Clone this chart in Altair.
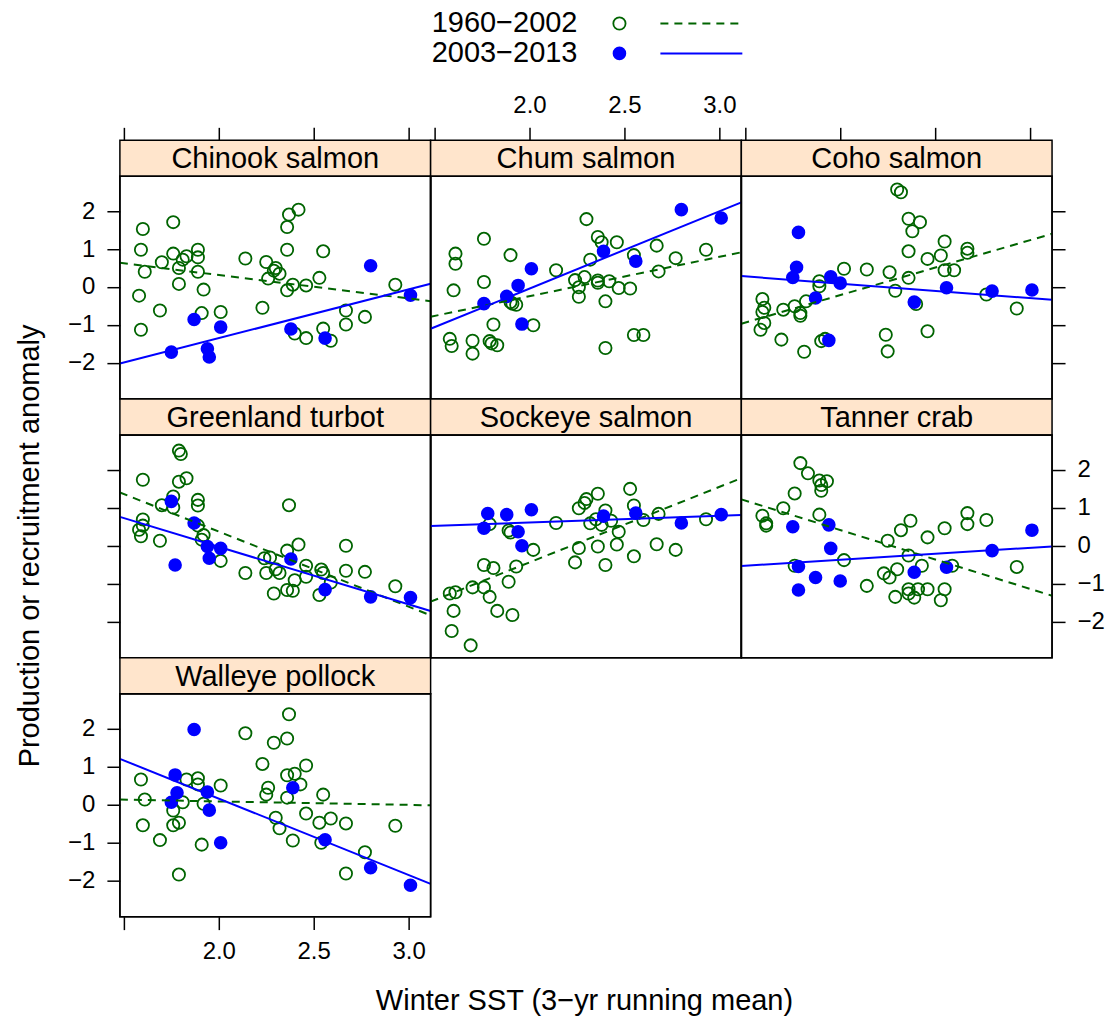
import altair as alt
import pandas as pd

# ---------------- data ----------------
SPECIES = ["Chinook salmon", "Chum salmon", "Coho salmon", "Greenland turbot",
           "Sockeye salmon", "Tanner crab", "Walleye pollock"]
PERIODS = ["1960\u22122002", "2003\u22122013"]
X_TICKS = [1.5, 2.0, 2.5, 3.0]
Y_TICKS = [-2, -1, 0, 1, 2]
X_TITLE = "Winter SST (3\u2212yr running mean)"
Y_TITLE = "Production or recruitment anomaly"

chinook_old_x = [1.60, 1.76, 1.59, 1.61, 1.58, 1.59, 1.70, 1.69, 1.76, 1.79, 1.81, 1.83, 1.79, 1.89, 1.89,
                 1.89, 1.92, 1.91, 2.01, 2.14, 2.23, 2.25, 2.26, 2.29, 2.30, 2.32, 2.36, 2.36, 2.37, 2.42,
                 2.36, 2.39, 2.46, 2.40, 2.46, 2.55, 2.53, 2.55, 2.59, 2.67, 2.67, 2.77, 2.93]
chinook_old_y = [1.53, 1.71, 0.98, 0.40, -0.23, -1.13, 0.65, -0.62, 0.88, 0.50, 0.72, 0.81, 0.08, 0.98, 0.78,
                 0.40, -0.07, -0.69, -0.66, 0.75, -0.55, 0.66, 0.22, 0.43, 0.50, 0.35, 0.98, 1.58, 1.91, 2.04,
                 -0.09, 0.06, 0.04, -1.23, -1.35, 0.94, 0.24, -1.10, -1.42, -0.62, -0.99, -0.79, 0.06]
chinook_new_x = [1.87, 1.75, 1.94, 1.95, 2.01, 2.38, 2.56, 2.80, 3.01]
chinook_new_y = [-0.86, -1.72, -1.63, -1.85, -1.06, -1.11, -1.35, 0.56, -0.22]

chum_old_x = [2.30, 2.36, 2.38, 2.46, 1.76, 1.61, 1.61, 1.90, 1.60, 1.76, 2.32, 2.14, 2.24, 2.29, 2.26,
              2.26, 2.36, 2.36, 2.42, 2.47, 2.53, 2.55, 2.40, 2.67, 2.68, 2.77, 2.93, 1.90, 1.91, 1.93,
              1.81, 2.02, 1.58, 1.59, 1.70, 1.79, 1.80, 1.83, 1.70, 2.40, 2.55, 2.60]
chum_old_y = [1.79, 1.32, 1.18, 1.18, 1.27, 0.88, 0.61, 0.84, -0.09, 0.13, 0.72, 0.44, 0.18, 0.26, -0.01,
              -0.26, 0.17, 0.11, 0.15, -0.03, -0.04, 0.84, -0.38, 1.09, 0.41, 0.76, 0.98, -0.40, -0.44, -0.47,
              -0.99, -1.01, -1.37, -1.56, -1.42, -1.43, -1.49, -1.54, -1.76, -1.61, -1.27, -1.27]
chum_new_x = [1.76, 1.88, 1.94, 2.01, 1.96, 2.39, 2.56, 2.80, 3.01]
chum_new_y = [-0.44, -0.25, 0.04, 0.48, -0.98, 0.94, 0.68, 2.04, 1.82]

coho_old_x = [2.30, 2.32, 2.36, 2.42, 2.38, 2.55, 2.67, 2.67, 2.53, 2.36, 2.46, 2.55, 2.60, 2.36, 2.26,
              2.14, 2.02, 1.89, 1.89, 2.29, 2.40, 1.82, 1.76, 1.79, 1.79, 1.70, 1.59, 1.60, 1.59, 1.60,
              1.58, 1.69, 1.81, 1.90, 1.92, 2.24, 2.25, 2.46, 2.77, 2.93]
coho_old_y = [2.57, 2.50, 1.80, 1.71, 1.47, 1.20, 1.01, 0.90, 0.83, 0.94, 0.74, 0.44, 0.44, 0.24, 0.39,
              0.46, 0.48, 0.15, 0.02, -0.10, -0.45, -0.38, -0.51, -0.69, -0.76, -0.60, -0.32, -0.55, -0.66, -0.95,
              -1.13, -1.39, -1.71, -1.43, -1.37, -1.26, -1.70, -1.17, -0.20, -0.57]
coho_new_x = [1.78, 1.77, 1.75, 1.87, 1.95, 2.00, 1.94, 2.39, 2.56, 2.80, 3.01]
coho_new_y = [1.44, 0.52, 0.25, -0.29, 0.27, 0.10, -1.41, -0.40, -0.02, -0.11, -0.08]

turbot_old_x = [1.79, 1.80, 1.60, 1.79, 1.83, 1.76, 1.70, 1.76, 1.89, 1.89, 1.60, 1.60, 1.58, 1.59, 1.69,
                1.89, 1.92, 1.91, 2.01, 2.14, 2.37, 2.42, 2.36, 2.24, 2.27, 2.25, 2.30, 2.32, 2.46, 2.46,
                2.40, 2.36, 2.39, 2.29, 2.54, 2.55, 2.59, 2.53, 2.67, 2.67, 2.77, 2.93]
turbot_old_y = [2.51, 2.42, 1.74, 1.69, 1.78, 1.30, 1.07, 1.01, 1.21, 1.06, 0.69, 0.53, 0.42, 0.25, 0.13,
                0.53, 0.28, 0.16, -0.40, -0.72, 1.07, 0.03, -0.13, -0.33, -0.31, -0.72, -0.62, -0.72, -0.53, -0.82,
                -0.91, -1.17, -1.19, -1.26, -0.63, -0.72, -0.97, -1.30, 0.00, -0.66, -0.69, -1.07]
turbot_new_x = [1.75, 1.87, 1.77, 1.94, 1.95, 2.01, 2.38, 2.56, 2.80, 3.01]
turbot_new_y = [1.17, 0.60, -0.51, -0.02, -0.33, -0.07, -0.35, -1.16, -1.35, -1.37]

sockeye_old_x = [2.53, 2.36, 2.30, 2.29, 2.26, 2.55, 2.40, 2.35, 2.32, 2.38, 2.43, 2.60, 2.68, 2.93, 2.47,
                 2.46, 2.36, 2.26, 2.24, 2.40, 2.55, 2.67, 2.77, 2.14, 1.79, 1.89, 1.90, 2.02, 1.93, 1.76,
                 1.81, 1.89, 1.70, 1.76, 1.79, 1.58, 1.61, 1.60, 1.83, 1.91, 1.59, 1.69]
sockeye_old_y = [1.50, 1.37, 1.23, 1.13, 0.99, 1.06, 0.93, 0.70, 0.59, 0.55, 0.66, 0.68, 0.84, 0.70, 0.37,
                 0.03, -0.02, -0.06, -0.44, -0.51, -0.28, 0.04, -0.11, 0.60, 0.57, 0.40, 0.35, -0.11, -0.55, -0.51,
                 -0.59, -0.95, -1.10, -1.10, -1.35, -1.26, -1.23, -1.72, -1.72, -1.83, -2.25, -2.63]
sockeye_new_x = [1.78, 1.88, 2.01, 1.76, 1.94, 1.96, 2.39, 2.56, 2.80, 3.01]
sockeye_new_y = [0.85, 0.82, 0.95, 0.46, 0.37, 0.00, 0.78, 0.86, 0.60, 0.82]

tanner_old_x = [1.79, 1.83, 1.89, 1.93, 1.90, 1.90, 1.76, 1.70, 1.59, 1.61, 1.61, 1.89, 2.37, 2.32, 2.55,
                2.67, 2.67, 2.77, 2.46, 2.25, 2.36, 2.02, 1.76, 2.43, 2.59, 2.93, 2.30, 2.23, 2.26, 2.14,
                2.36, 2.41, 2.46, 2.55, 2.36, 2.39, 2.29, 2.53]
tanner_old_y = [2.18, 1.91, 1.72, 1.70, 1.60, 1.45, 1.38, 0.99, 0.79, 0.59, 0.53, 0.82, 0.66, 0.41, 0.46,
                0.86, 0.57, 0.68, 0.22, 0.13, -0.26, -0.38, -0.53, -0.53, -0.53, -0.56, -0.62, -0.73, -0.84, -1.06,
                -1.15, -1.15, -1.15, -1.15, -1.26, -1.37, -1.35, -1.44]
tanner_new_x = [1.75, 1.94, 1.95, 1.78, 1.87, 2.00, 1.78, 2.39, 2.56, 2.80, 3.01]
tanner_new_y = [0.50, 0.55, -0.07, -0.55, -0.84, -0.93, -1.17, -0.70, -0.57, -0.13, 0.41]

pollock_old_x = [2.37, 2.14, 2.29, 2.36, 2.23, 2.46, 2.36, 2.40, 2.43, 2.26, 2.25, 2.36, 2.55, 1.59, 1.61,
                 1.60, 1.83, 1.89, 1.89, 2.01, 1.81, 1.92, 1.76, 1.76, 1.79, 1.69, 1.91, 1.79, 2.30, 2.32,
                 2.39, 2.46, 2.53, 2.59, 2.54, 2.67, 2.67, 2.77, 2.93]
pollock_old_y = [2.38, 1.88, 1.63, 1.74, 1.07, 1.03, 0.77, 0.81, 0.53, 0.44, 0.26, 0.18, 0.26, 0.66, 0.13,
                 -0.55, 0.66, 0.69, 0.53, 0.50, 0.06, 0.02, -0.16, -0.55, -0.48, -0.94, -1.06, -1.85, -0.35, -0.63,
                 -0.95, -0.24, -0.48, -0.37, -1.01, -0.50, -1.82, -1.26, -0.56]
pollock_new_x = [1.87, 1.77, 1.78, 1.75, 1.94, 1.95, 2.01, 2.39, 2.56, 2.80, 3.01]
pollock_new_y = [1.98, 0.78, 0.31, 0.06, 0.33, -0.15, -1.01, 0.44, -0.93, -1.67, -2.13]

# ---------------- style ----------------
FONT = "Liberation Sans"
GREEN = "#006400"
BLUE = "#0000FF"
STRIP_FILL = "#FFE5CC"
W, H = 311, 223
STRIP_H = 36
XDOM = [1.479, 3.116]
YDOM = [-2.96, 2.92]
TICK = 13
OPEN_SIZE = 150
FILLED_SIZE = 185


def x_axis(orient, labels):
    kw = dict(orient=orient, values=X_TICKS, grid=False, domain=False, title=None,
              tickSize=TICK, tickWidth=1.5, tickColor="black", labels=labels,
              labelFont=FONT, labelFontSize=24, labelColor="black",
              labelPadding=10, labelFlush=False, labelOverlap=False,
              labelExpr="datum.value < 1.9 ? '' : format(datum.value, '.1f')")
    if orient == "top":
        kw["offset"] = STRIP_H
    return alt.Axis(**kw)


def y_axis(orient, labels):
    return alt.Axis(orient=orient, values=Y_TICKS, grid=False, domain=False, title=None,
                    tickSize=TICK, tickWidth=1.5, tickColor="black", labels=labels,
                    labelFont=FONT, labelFontSize=24, labelColor="black",
                    labelPadding=12, labelFlush=False, labelOverlap=False, format="d")


def panel(name, ox, oy, nx, ny, xax, yax, extras=()):
    old = pd.DataFrame({"sst": ox, "anomaly": oy})
    new = pd.DataFrame({"sst": nx, "anomaly": ny})
    xs = alt.Scale(domain=XDOM, nice=False, zero=False)
    ys = alt.Scale(domain=YDOM, nice=False, zero=False)
    X = alt.X("sst:Q", scale=xs, axis=xax)
    Y = alt.Y("anomaly:Q", scale=ys, axis=yax)

    lab = pd.DataFrame({"label": [name]})
    strip = alt.Chart(lab).mark_rect(fill=STRIP_FILL, stroke="black", strokeWidth=1.5).encode(
        x=alt.value(0), x2=alt.value(W), y=alt.value(-STRIP_H), y2=alt.value(0))
    strip_text = alt.Chart(lab).mark_text(font=FONT, fontSize=29, color="black",
                                          baseline="middle", align="center").encode(
        x=alt.value(W / 2), y=alt.value(-STRIP_H / 2 + 1), text="label:N")

    pts_old = alt.Chart(old).mark_point(shape="circle", filled=False, color=GREEN,
                                        size=OPEN_SIZE, strokeWidth=1.8, opacity=1).encode(x=X, y=Y)
    pts_new = alt.Chart(new).mark_circle(color=BLUE, size=FILLED_SIZE, opacity=1).encode(x=X, y=Y)
    fit_old = alt.Chart(old).transform_regression("sst", "anomaly", extent=XDOM).mark_line(
        color=GREEN, strokeDash=[8, 6], strokeWidth=2, clip=True).encode(x=X, y=Y)
    fit_new = alt.Chart(new).transform_regression("sst", "anomaly", extent=XDOM).mark_line(
        color=BLUE, strokeWidth=2, clip=True).encode(x=X, y=Y)

    frame = alt.Chart(lab).mark_rect(fill=None, stroke="black", strokeWidth=1.5).encode(
        x=alt.value(0), x2=alt.value(W), y=alt.value(0), y2=alt.value(H))

    layers = [strip, strip_text, pts_old, pts_new, fit_old, fit_new, frame] + list(extras)
    return alt.layer(*layers).properties(width=W, height=H)


# legend drawn above the middle panel of the top row
def legend_row(i, ypos):
    d = pd.DataFrame({"label": [PERIODS[i]]})
    txt = alt.Chart(d).mark_text(font=FONT, fontSize=29, color="black", align="right",
                                 baseline="middle").encode(
        x=alt.value(147), y=alt.value(ypos), text="label:N")
    if i == 0:
        sym = alt.Chart(d).mark_point(shape="circle", filled=False, color=GREEN, size=OPEN_SIZE,
                                      strokeWidth=1.8, opacity=1).encode(
            x=alt.value(189), y=alt.value(ypos))
        ln = alt.Chart(d).mark_rule(color=GREEN, strokeDash=[8, 6], strokeWidth=2).encode(
            x=alt.value(230), x2=alt.value(312), y=alt.value(ypos))
    else:
        sym = alt.Chart(d).mark_circle(color=BLUE, size=FILLED_SIZE, opacity=1).encode(
            x=alt.value(189), y=alt.value(ypos))
        ln = alt.Chart(d).mark_rule(color=BLUE, strokeWidth=2).encode(
            x=alt.value(230), x2=alt.value(312), y=alt.value(ypos))
    return [txt, sym, ln]


legend_layers = legend_row(0, -153) + legend_row(1, -123)

ytitle = alt.Chart(pd.DataFrame({"t": [Y_TITLE]})).mark_text(
    font=FONT, fontSize=29, color="black", angle=270, align="center", baseline="middle").encode(
    x=alt.value(-90), y=alt.value(111), text="t:N")
xtitle = alt.Chart(pd.DataFrame({"t": [X_TITLE]})).mark_text(
    font=FONT, fontSize=29, color="black", align="center", baseline="middle").encode(
    x=alt.value(465), y=alt.value(307), text="t:N")

p1 = panel(SPECIES[0], chinook_old_x, chinook_old_y, chinook_new_x, chinook_new_y,
           x_axis("top", False), y_axis("left", True))
p2 = panel(SPECIES[1], chum_old_x, chum_old_y, chum_new_x, chum_new_y,
           x_axis("top", True), None, legend_layers)
p3 = panel(SPECIES[2], coho_old_x, coho_old_y, coho_new_x, coho_new_y,
           x_axis("top", False), y_axis("right", False))
p4 = panel(SPECIES[3], turbot_old_x, turbot_old_y, turbot_new_x, turbot_new_y,
           None, y_axis("left", False), [ytitle])
p5 = panel(SPECIES[4], sockeye_old_x, sockeye_old_y, sockeye_new_x, sockeye_new_y,
           None, None)
p6 = panel(SPECIES[5], tanner_old_x, tanner_old_y, tanner_new_x, tanner_new_y,
           None, y_axis("right", True))
p7 = panel(SPECIES[6], pollock_old_x, pollock_old_y, pollock_new_x, pollock_new_y,
           x_axis("bottom", True), y_axis("left", True), [xtitle])

chart = alt.concat(p1, p2, p3, p4, p5, p6, p7, columns=3,
                   spacing={"row": STRIP_H, "column": 0}, bounds="flush").properties(
    padding={"left": 15, "top": 8, "right": 5, "bottom": 5},
    background="white"
).configure_view(stroke="black", strokeWidth=1.5)

chart.save("out.html", embed_options={"renderer": "svg", "actions": False})
